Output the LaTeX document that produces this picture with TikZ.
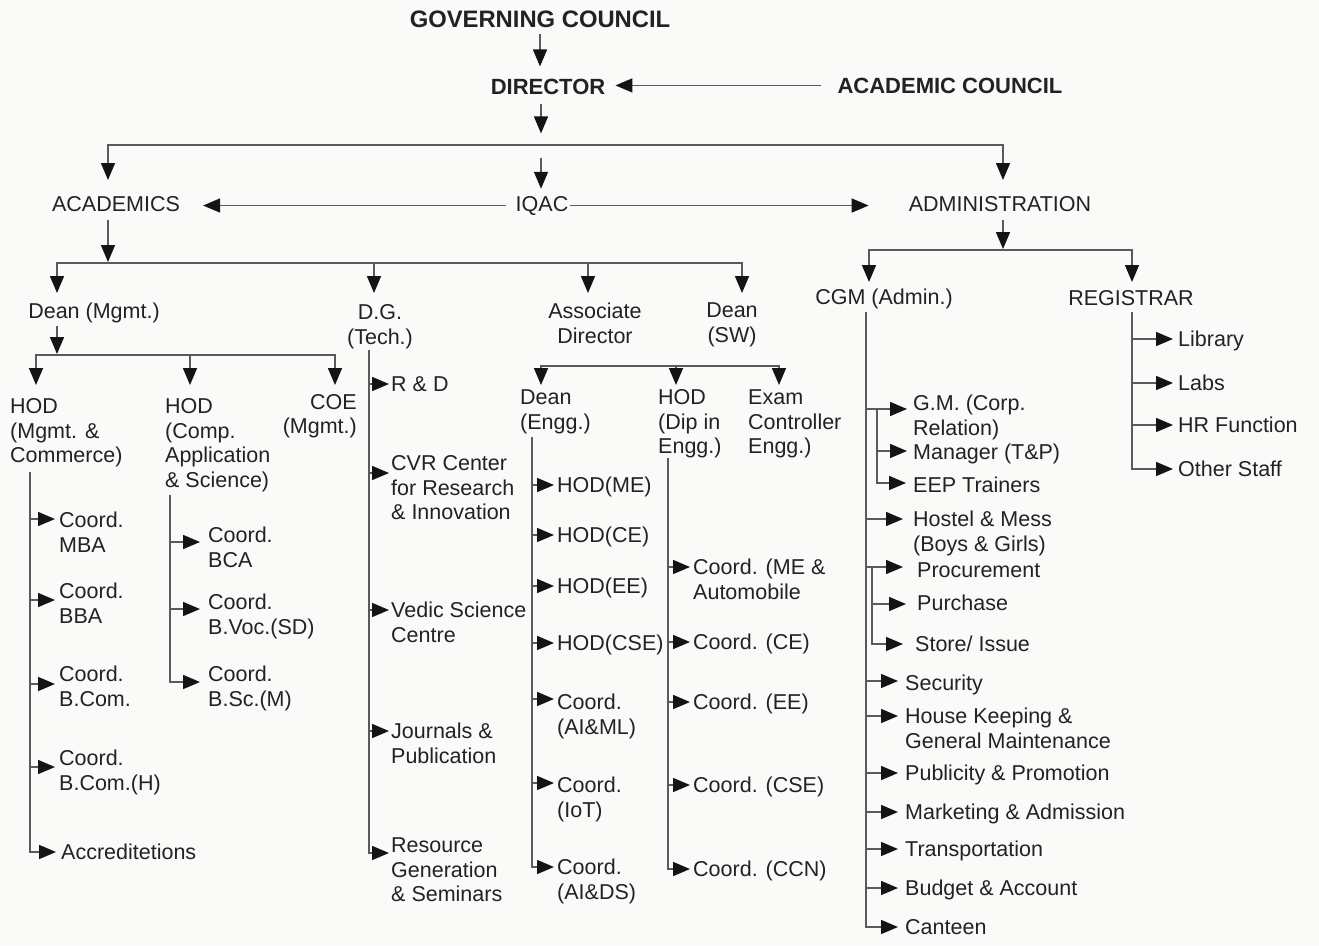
\documentclass[tikz,border=0pt]{standalone}
\usepackage{fontspec}
\setmainfont{Liberation Sans}
\usetikzlibrary{arrows.meta,calc}

\definecolor{bgcol}{RGB}{250,250,249}
\definecolor{txtcol}{RGB}{34,34,34}
\definecolor{wirecol}{RGB}{90,90,90}
\definecolor{tipcol}{RGB}{20,20,20}

% multi-line labels sit on the baseline of their last line
\tikzset{
  lbl/.style={font=\fontsize{21.5}{24.5}\selectfont, text=txtcol, inner sep=0pt,
              align=left, anchor=base west},
  clbl/.style={lbl, align=center, anchor=base},
  rlbl/.style={lbl, align=right, anchor=base east},
  head/.style={font=\fontsize{22}{26}\selectfont\bfseries, text=txtcol,
               inner sep=0pt, anchor=base},
  wire/.style={draw=wirecol, line width=1.6pt},
  tip/.tip={Triangle[length=17pt,width=14pt,color=tipcol]},
  feed/.style={wire, -tip},
  biarr/.style={wire, tip-tip},
}

% entry point of a side arrow: node, vertical offset from its last baseline, gap before the text
\newcommand\leafpt[3]{\coordinate (#1-in) at ($(#1.base west)+(-#3,#2)$);}
% side arrow from a trunk line to a node
\newcommand\leafarrow[2]{\draw[feed] (#1 |- #2-in) -- (#2-in);}

\begin{document}
\begin{tikzpicture}[x=1pt,y=-1pt]
\fill[bgcol] (0,0) rectangle (1319,945);
\useasboundingbox (0,0) rectangle (1319,945);

% ---------- top level ----------
\node[head, font=\fontsize{23.8}{28}\selectfont\bfseries] (gov) at (540,27.3) {GOVERNING COUNCIL};
\node[head] (dir) at (548,94) {DIRECTOR};
\node[head] (acc) at (950,93) {ACADEMIC COUNCIL};

\node[clbl] (acad) at (116,211) {ACADEMICS};
\node[clbl] (iqac) at (542,211) {IQAC};
\node[clbl] (admin) at (1000,211) {ADMINISTRATION};

\draw[feed] ($(gov.south)+(0,6)$) -- ($(gov.south |- dir.north)+(0,-12)$);
\draw[feed] ($(acc.west)+(-16,0)$) -- ($(dir.east |- acc.west)+(10,0)$);
\draw[feed] ($(iqac.north |- dir.south)+(-1,10)$) -- ++(0,29);

\coordinate (b1w) at (108,145);
\coordinate (b1e) at (1003,145);
\coordinate (lvl1) at (0,180);
\draw[biarr] (lvl1 -| b1w) -- (b1w) -- (b1e) -- (lvl1 -| b1e);
\draw[feed] ($(b1w -| iqac)+(-1,13)$) -- ($(iqac.north)+(-1,-7)$);
\draw[feed] ($(iqac.west)+(-10,0)$) -- ($(acad.east |- iqac.west)+(23,0)$);
\draw[feed] ($(iqac.east)+(2,0)$) -- ($(admin.west |- iqac.east)+(-40,0)$);

% ---------- academics ----------
\coordinate (b2w) at (57,263);
\coordinate (b2a) at (374,263);
\coordinate (b2b) at (588,263);
\coordinate (b2e) at (742,263);
\coordinate (lvl2) at (0,293);
\draw[feed] ($(acad.south -| b1w)+(0,9)$) -- ($(b2w -| b1w)+(0,-1)$);
\draw[biarr] (lvl2 -| b2w) -- (b2w) -- (b2e) -- (lvl2 -| b2e);
\draw[feed] (b2a) -- (lvl2 -| b2a);
\draw[feed] (b2b) -- (lvl2 -| b2b);

\node[clbl] (dmg) at (94,318.5) {Dean (Mgmt.)};
\node[clbl] (dg) at (380,344) {D.G.\\(Tech.)};
\node[clbl] (ad) at (595,343) {Associate\\Director};
\node[clbl] (dsw) at (732,342) {Dean\\(SW)};

% Dean (Mgmt.)
\coordinate (b3w) at (36,355);
\coordinate (b3m) at (190,355);
\coordinate (b3e) at (335,355);
\coordinate (lvl3) at (0,385);
\draw[feed] ($(b2w |- dmg.south)+(0,3)$) -- ($(b3w -| b2w)+(0,-1)$);
\draw[biarr] (lvl3 -| b3w) -- (b3w) -- (b3e) -- (lvl3 -| b3e);
\draw[feed] (b3m) -- (lvl3 -| b3m);

\node[lbl] (hodm) at (10,462.5) {HOD\\(Mgmt. \&\\Commerce)};
\node[lbl] (hodc) at (165,487) {HOD\\(Comp.\\Application\\\& Science)};
\node[rlbl] (coe) at (357,433.5) {COE\\(Mgmt.)};

\node[lbl] (mba) at (59,552) {Coord.\\MBA};
\node[lbl] (bba) at (59,623) {Coord.\\BBA};
\node[lbl] (bcom) at (59,706) {Coord.\\B.Com.};
\node[lbl] (bcomh) at (59,790) {Coord.\\B.Com.(H)};
\node[lbl] (accr) at (61,859) {Accreditetions};
\coordinate (t-hodm) at (30,472);
\leafpt{mba}{-33}{4}
\leafpt{bba}{-23}{4}
\leafpt{bcom}{-22}{4}
\leafpt{bcomh}{-23}{4}
\leafpt{accr}{-7}{5}
\leafarrow{t-hodm}{mba}
\leafarrow{t-hodm}{bba}
\leafarrow{t-hodm}{bcom}
\leafarrow{t-hodm}{bcomh}
\draw[feed] (t-hodm) |- (accr-in);

\node[lbl] (bca) at (208,567) {Coord.\\BCA};
\node[lbl] (bvoc) at (208,634) {Coord.\\B.Voc.(SD)};
\node[lbl] (bsc) at (208,706) {Coord.\\B.Sc.(M)};
\coordinate (t-hodc) at (170,495);
\leafpt{bca}{-25}{8}
\leafpt{bvoc}{-25}{8}
\leafpt{bsc}{-24}{8}
\leafarrow{t-hodc}{bca}
\leafarrow{t-hodc}{bvoc}
\draw[feed] (t-hodc) |- (bsc-in);

% D.G. (Tech.)
\node[lbl] (rd) at (391,391.5) {R \& D};
\node[lbl] (cvr) at (391,519.5) {CVR Center\\for Research\\\& Innovation};
\node[lbl] (vedic) at (391,642) {Vedic Science\\Centre};
\node[lbl] (jour) at (391,763) {Journals \&\\Publication};
\node[lbl] (res) at (391,901.5) {Resource\\Generation\\\& Seminars};
\coordinate (t-dg) at (369,350);
\leafpt{rd}{-7.5}{2}
\leafpt{cvr}{-46.5}{2}
\leafpt{vedic}{-32}{2}
\leafpt{jour}{-32}{2}
\leafpt{res}{-48.5}{2}
\leafarrow{t-dg}{rd}
\leafarrow{t-dg}{cvr}
\leafarrow{t-dg}{vedic}
\leafarrow{t-dg}{jour}
\draw[feed] (t-dg) |- (res-in);

% Associate Director
\coordinate (b4w) at (541,366);
\coordinate (b4m) at (676,366);
\coordinate (b4e) at (779,366);
\coordinate (lvl4) at (0,385);
\draw[biarr] (lvl4 -| b4w) -- (b4w) -- (b4e) -- (lvl4 -| b4e);
\draw[feed] (b4m) -- (lvl4 -| b4m);

\node[lbl] (deng) at (520,429) {Dean\\(Engg.)};
\node[lbl] (hodd) at (658,453.5) {HOD\\(Dip in\\Engg.)};
\node[lbl] (exam) at (748,453.5) {Exam\\Controller\\Engg.)};

\node[lbl] (hme) at (557,492.5) {HOD(ME)};
\node[lbl] (hce) at (557,542.5) {HOD(CE)};
\node[lbl] (hee) at (557,593.5) {HOD(EE)};
\node[lbl] (hcse) at (557,650.5) {HOD(CSE)};
\node[lbl] (aiml) at (557,734) {Coord.\\(AI\&ML)};
\node[lbl] (iot) at (557,817) {Coord.\\(IoT)};
\node[lbl] (aids) at (557,899) {Coord.\\(AI\&DS)};
\coordinate (t-deng) at (532,437);
\leafpt{hme}{-7.5}{3}
\leafpt{hce}{-7.5}{3}
\leafpt{hee}{-7.5}{3}
\leafpt{hcse}{-7.5}{3}
\leafpt{aiml}{-35}{3}
\leafpt{iot}{-34}{3}
\leafpt{aids}{-32}{3}
\leafarrow{t-deng}{hme}
\leafarrow{t-deng}{hce}
\leafarrow{t-deng}{hee}
\leafarrow{t-deng}{hcse}
\leafarrow{t-deng}{aiml}
\leafarrow{t-deng}{iot}
\draw[feed] (t-deng) |- (aids-in);

\node[lbl] (cme) at (693,599) {Coord. (ME \&\\Automobile};
\node[lbl] (cce) at (693,649.5) {Coord. (CE)};
\node[lbl] (cee) at (693,709.5) {Coord. (EE)};
\node[lbl] (ccse) at (693,792.5) {Coord. (CSE)};
\node[lbl] (cccn) at (693,876.5) {Coord. (CCN)};
\coordinate (t-hodd) at (668,458);
\leafpt{cme}{-32}{3}
\leafpt{cce}{-7.5}{3}
\leafpt{cee}{-7.5}{3}
\leafpt{ccse}{-7.5}{3}
\leafpt{cccn}{-7.5}{3}
\leafarrow{t-hodd}{cme}
\leafarrow{t-hodd}{cce}
\leafarrow{t-hodd}{cee}
\leafarrow{t-hodd}{ccse}
\draw[feed] (t-hodd) |- (cccn-in);

% ---------- administration ----------
\coordinate (b5w) at (869,250);
\coordinate (b5e) at (1132,250);
\coordinate (lvl5) at (0,282);
\draw[feed] ($(admin.south -| b1e)+(0,9)$) -- ($(b5w -| b1e)+(0,-1)$);
\draw[biarr] (lvl5 -| b5w) -- (b5w) -- (b5e) -- (lvl5 -| b5e);

\node[clbl] (cgm) at (884,304.5) {CGM (Admin.)};
\node[clbl] (reg) at (1131,305.5) {REGISTRAR};

% Registrar
\node[lbl] (lib) at (1178,346.5) {Library};
\node[lbl] (labs) at (1178,390) {Labs};
\node[lbl] (hr) at (1178,432.5) {HR Function};
\node[lbl] (oth) at (1178,476) {Other Staff};
\coordinate (t-reg) at (1132,312);
\leafpt{lib}{-7.5}{5}
\leafpt{labs}{-7}{5}
\leafpt{hr}{-7.5}{5}
\leafpt{oth}{-7}{5}
\leafarrow{t-reg}{lib}
\leafarrow{t-reg}{labs}
\leafarrow{t-reg}{hr}
\draw[feed] (t-reg) |- (oth-in);

% CGM (Admin.)
\node[lbl] (gmc) at (913,435) {G.M. (Corp.\\Relation)};
\node[lbl] (mgr) at (913,459.5) {Manager (T\&P)};
\node[lbl] (eep) at (913,492) {EEP Trainers};
\node[lbl] (hostel) at (913,551) {Hostel \& Mess\\(Boys \& Girls)};
\node[lbl] (proc) at (917,577) {Procurement};
\node[lbl] (purch) at (917,610.5) {Purchase};
\node[lbl] (store) at (915,651.5) {Store/ Issue};
\node[lbl] (sec) at (905,690.5) {Security};
\node[lbl] (hk) at (905,748) {House Keeping \&\\General Maintenance};
\node[lbl] (pub) at (905,780.5) {Publicity \& Promotion};
\node[lbl] (mkt) at (905,819.5) {Marketing \& Admission};
\node[lbl] (trans) at (905,856.5) {Transportation};
\node[lbl] (budg) at (905,895.5) {Budget \& Account};
\node[lbl] (cant) at (905,934.5) {Canteen};

\coordinate (t-cgm) at (866,312);
\leafpt{gmc}{-26}{6}
\leafpt{mgr}{-8.5}{6}
\leafpt{eep}{-9}{7}
\leafpt{hostel}{-32}{10}
\leafpt{proc}{-10}{14}
\leafpt{purch}{-6.5}{11}
\leafpt{store}{-7.5}{12}
\leafpt{sec}{-9.5}{7}
\leafpt{hk}{-32}{7}
\leafpt{pub}{-7.5}{7}
\leafpt{mkt}{-7.5}{7}
\leafpt{trans}{-7.5}{7}
\leafpt{budg}{-7.5}{7}
\leafpt{cant}{-7.5}{7}

\leafarrow{t-cgm}{gmc}
\coordinate (t-gm) at (877,409);
\leafarrow{t-gm}{mgr}
\draw[feed] (t-gm) |- (eep-in);
\leafarrow{t-cgm}{hostel}
\leafarrow{t-cgm}{proc}
\coordinate (t-proc) at (872,567);
\leafarrow{t-proc}{purch}
\draw[feed] (t-proc) |- (store-in);
\leafarrow{t-cgm}{sec}
\leafarrow{t-cgm}{hk}
\leafarrow{t-cgm}{pub}
\leafarrow{t-cgm}{mkt}
\leafarrow{t-cgm}{trans}
\leafarrow{t-cgm}{budg}
\draw[feed] (t-cgm) |- (cant-in);

\end{tikzpicture}
\end{document}
